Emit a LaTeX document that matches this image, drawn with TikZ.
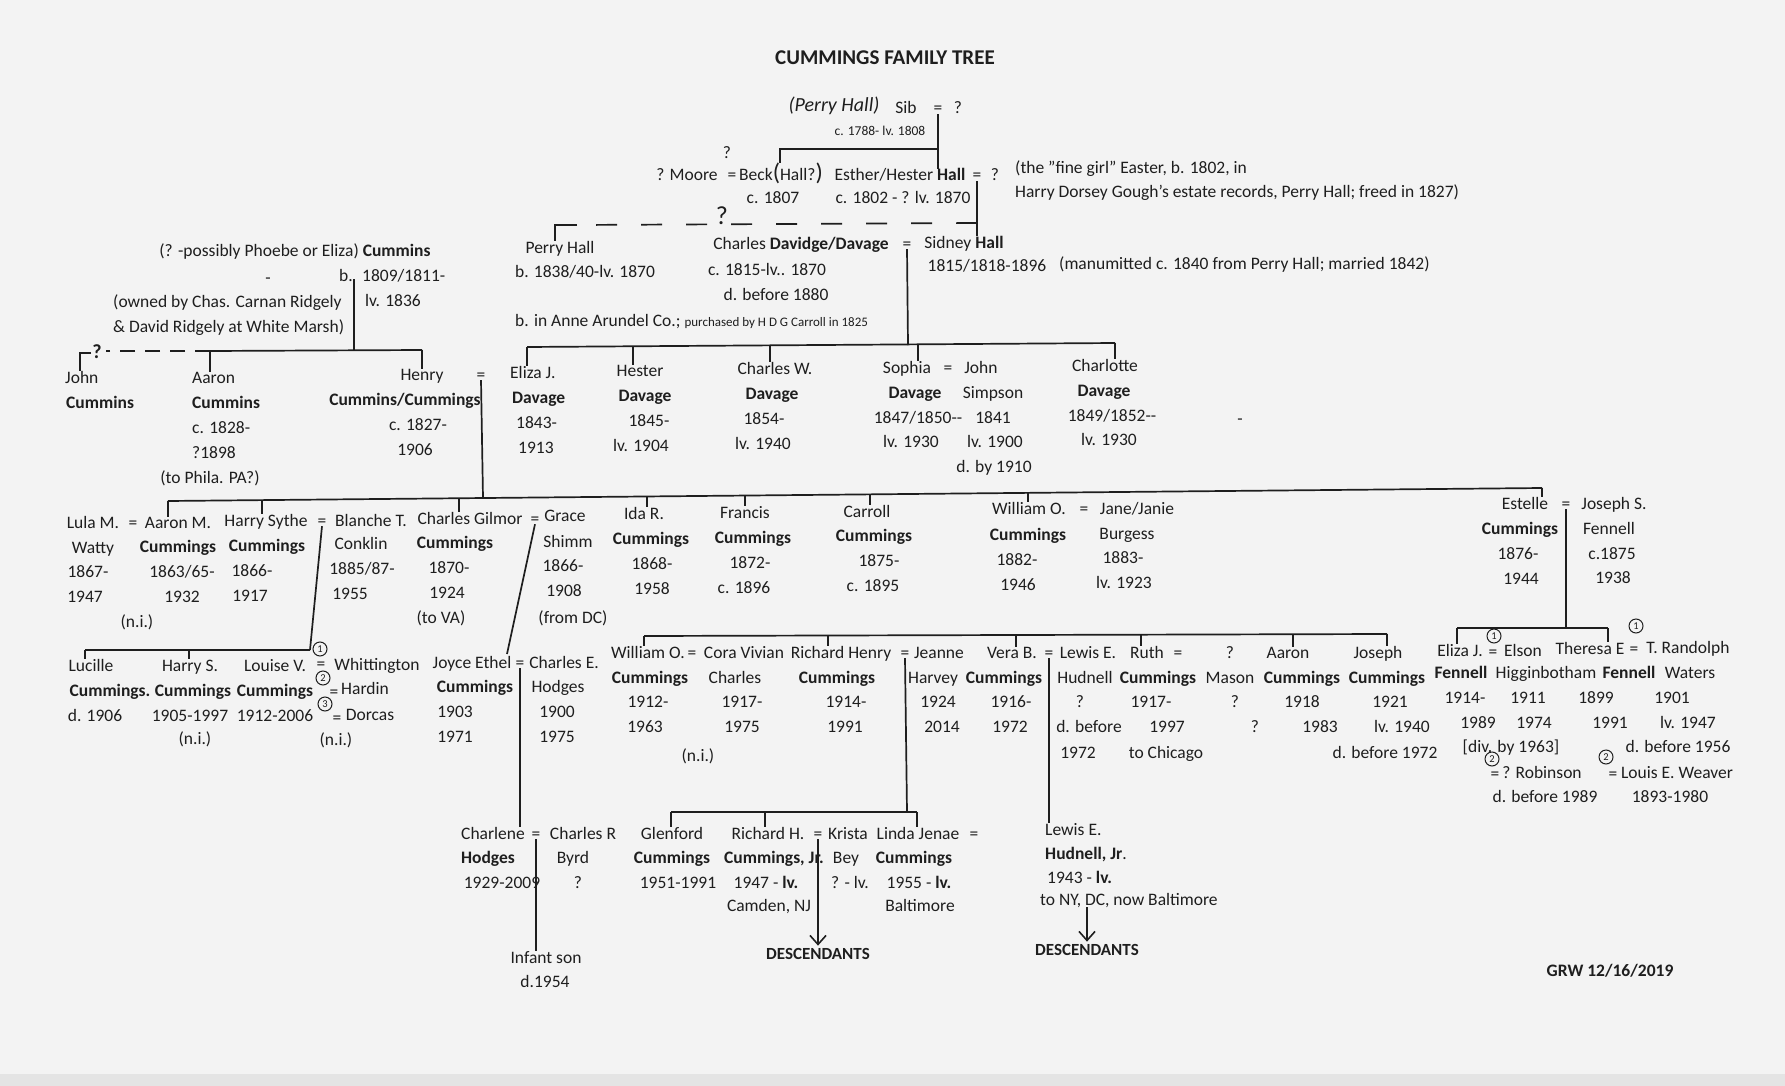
\documentclass[tikz,border=0pt]{standalone}
\usepackage{fontspec}
\setmainfont{Carlito}
\usetikzlibrary{arrows.meta}
\definecolor{ink}{HTML}{1E1E1E}
\definecolor{paper}{HTML}{F3F3F3}
\definecolor{edge}{HTML}{E4E4E4}
\newcommand\Lb[4][]{\node[tx,#1] (#2) at (#3) {#4};}
\newcommand\bigp[1]{{\fontsize{24}{24}\selectfont#1}}
\begin{document}
\begin{tikzpicture}[x=1pt,y=-1pt,
  tx/.style={anchor=base,yshift=-6pt,inner sep=0pt,text=ink,font=\fontsize{17.5}{21}\selectfont},
  lft/.style={anchor=base west},
  sm/.style={font=\fontsize{13.5}{16}\selectfont},
  ln/.style={draw=ink,line width=1.7pt},
  arr/.style={-{Straight Barb[length=9pt,width=16pt,line width=1.6pt]},shorten >=2pt},
  circ/.style={circle,draw=ink,line width=1pt,inner sep=0.4pt,minimum size=14pt,text=ink,font=\fontsize{10.5}{11}\selectfont}]
\useasboundingbox (0,0) rectangle (1785,1086);
\fill[paper] (0,0) rectangle (1785,1086);
\fill[edge] (0,1074) rectangle (1785,1086);

% ---------- top generation ----------
\Lb[font=\fontsize{21}{25}\selectfont\bfseries]{title}{885,59}{CUMMINGS FAMILY TREE}
\Lb[font=\fontsize{20}{24}\selectfont\itshape]{perry}{834,106}{(Perry Hall)}
\Lb{sib}{906,108}{Sib}
\Lb{sibeq}{938,108}{=}
\Lb{sibsp}{958,108}{?}
\Lb[sm]{sibd}{880,130}{c. 1788- lv. 1808}
\Lb{mooreq}{727,153}{?}
\Lb{moore}{687,175}{? Moore}
\Lb{mooreeq}{732,175}{=}
\Lb{beck}{781,175}{Beck\bigp{(}Hall?\bigp{)}}
\Lb{esther}{900,175}{Esther/Hester \textbf{Hall}}
\Lb{esteq}{977,175}{=}
\Lb{estsp}{995,175}{?}
\Lb{beckd}{773,198}{c. 1807}
\Lb{estd}{903,198}{c. 1802 - ? lv. 1870}
\Lb[lft]{note1}{1015,168}{(the "fine girl" Easter, b. 1802, in}
\Lb[lft]{note2}{1015,192}{Harry Dorsey Gough's estate records, Perry Hall; freed in 1827)}

% ---------- Cummins / Hall / Davage generation ----------
\Lb{phoebe}{295,250}{(? -possibly Phoebe or Eliza) \textbf{Cummins}}
\Lb{dash1}{268,277}{-}
\Lb{bee}{346,275}{b.}
\Lb[lft]{cumb}{362,275}{1809/1811-}
\Lb[lft]{cumlv}{365,300}{lv. 1836}
\Lb[lft]{owned1}{113,301}{(owned by Chas. Carnan Ridgely}
\Lb[lft]{owned2}{113,326}{\& David Ridgely at White Marsh)}

\Lb{perryh}{560,247}{Perry Hall}
\Lb{perryd}{585,271}{b. 1838/40-lv. 1870}
\Lb{chdav}{801,243}{Charles \textbf{Davidge/Davage}}
\Lb{cdeq}{907,243}{=}
\Lb{chd1}{767,269}{c. 1815-lv.. 1870}
\Lb{chd2}{776,294}{d. before 1880}
\Lb[lft]{anne}{515,320}{b. in Anne Arundel Co.; {\fontsize{13}{15}\selectfont purchased by H D G Carroll in 1825}}
\Lb{sidney}{964,242}{Sidney \textbf{Hall}}
\Lb{sidd}{987,265}{1815/1818-1896}
\Lb[lft]{manu}{1059,263}{(manumitted c. 1840 from Perry Hall; married 1842)}
\Lb[font=\fontsize{26}{26}\selectfont]{dq}{722,219}{?}

% ---------- children of Cummins ----------
\Lb[lft]{john}{65,377}{John}
\Lb[lft]{johnb}{66,402}{\textbf{Cummins}}
\Lb[lft]{aaron}{192,377}{Aaron}
\Lb[lft]{aaronb}{192,402}{\textbf{Cummins}}
\Lb[lft]{aarond1}{192,427}{c. 1828-}
\Lb[lft]{aarond2}{192,452}{?1898}
\Lb{aaronph}{210,477}{(to Phila. PA?)}
\Lb{henry}{422,374}{Henry}
\Lb{henryeq}{481,374}{=}
\Lb{henryb}{405,399}{\textbf{Cummins/Cummings}}
\Lb{henryd1}{418,424}{c. 1827-}
\Lb{henryd2}{415,449}{1906}
\Lb[font=\fontsize{20}{20}\selectfont\bfseries]{q1}{97,352}{?}

% ---------- children of Davage ----------
\Lb[lft]{elizaD}{510,372}{Eliza J.}
\Lb[lft]{elizaDb}{512,397}{\textbf{Davage}}
\Lb[lft]{elizaDd1}{516,422}{1843-}
\Lb[lft]{elizaDd2}{518,447}{1913}
\Lb{hester}{640,370}{Hester}
\Lb{hesterb}{645,395}{\textbf{Davage}}
\Lb{hesterd1}{649,420}{1845-}
\Lb{hesterd2}{641,445}{lv. 1904}
\Lb{charlesW}{775,368}{Charles W.}
\Lb{charlesWb}{772,393}{\textbf{Davage}}
\Lb{charlesWd1}{764,418}{1854-}
\Lb{charlesWd2}{763,443}{lv. 1940}
\Lb{sophia}{907,367}{Sophia}
\Lb{sopheq}{948,367}{=}
\Lb{johnS}{981,367}{John}
\Lb{sophiab}{915,392}{\textbf{Davage}}
\Lb{simpson}{993,392}{Simpson}
\Lb{sophiad1}{918,417}{1847/1850-{}-}
\Lb{johnSd1}{993,417}{1841}
\Lb{sophiad2}{911,441}{lv. 1930}
\Lb{johnSd2}{995,441}{lv. 1900}
\Lb{johnSd3}{994,466}{d. by 1910}
\Lb{charlotte}{1105,365}{Charlotte}
\Lb{charlotteb}{1104,390}{\textbf{Davage}}
\Lb{charlotted1}{1112,415}{1849/1852-{}-}
\Lb{charlotted2}{1109,439}{lv. 1930}
\Lb{dash2}{1240,418}{-}

% ---------- children of Henry ----------
\Lb{lula}{93,522}{Lula M.}
\Lb{lulaeq}{133,522}{=}
\Lb{aaronM}{178,522}{Aaron M.}
\Lb{watty}{93,547}{Watty}
\Lb{aaronMb}{178,546}{\textbf{Cummings}}
\Lb{lulad1}{88,571}{1867-}
\Lb{aaronMd1}{182,571}{1863/65-}
\Lb{lulad2}{85,596}{1947}
\Lb{aaronMd2}{182,596}{1932}
\Lb{aaronMni}{137,621}{(n.i.)}
\Lb{harrys}{266,520}{Harry Sythe}
\Lb{hseq}{322,520}{=}
\Lb{harrysb}{267,545}{\textbf{Cummings}}
\Lb{harrysd1}{252,570}{1866-}
\Lb{harrysd2}{250,595}{1917}
\Lb{blanche}{371,520}{Blanche T.}
\Lb{conklin}{361,543}{Conklin}
\Lb{blanched1}{362,568}{1885/87-}
\Lb{blanched2}{350,593}{1955}
\Lb{charlesg}{470,518}{Charles Gilmor}
\Lb{cgeq}{535,518}{=}
\Lb{charlesgb}{455,542}{\textbf{Cummings}}
\Lb{charlesgd1}{449,567}{1870-}
\Lb{charlesgd2}{447,592}{1924}
\Lb{charlesgva}{441,617}{(to VA)}
\Lb{grace}{565,515}{Grace}
\Lb{shimm}{568,541}{Shimm}
\Lb{graced1}{563,565}{1866-}
\Lb{graced2}{564,590}{1908}
\Lb{gracedc}{573,617}{(from DC)}
\Lb{idaR}{644,513}{Ida R.}
\Lb{idaRb}{651,538}{\textbf{Cummings}}
\Lb{idaRd1}{652,563}{1868-}
\Lb{idaRd2}{652,588}{1958}
\Lb{francis}{745,512}{Francis}
\Lb{francisb}{753,537}{\textbf{Cummings}}
\Lb{francisd1}{750,562}{1872-}
\Lb{francisd2}{744,587}{c. 1896}
\Lb{carroll}{867,511}{Carroll}
\Lb{carrollb}{874,535}{\textbf{Cummings}}
\Lb{carrolld1}{879,560}{1875-}
\Lb{carrolld2}{873,585}{c. 1895}
\Lb{williamO}{1029,508}{William O.}
\Lb{woeq}{1084,508}{=}
\Lb{jane}{1137,508}{Jane/Janie}
\Lb{williamOb}{1028,534}{\textbf{Cummings}}
\Lb{burgess}{1127,533}{Burgess}
\Lb{williamOd1}{1017,559}{1882-}
\Lb{janed1}{1123,557}{1883-}
\Lb{williamOd2}{1018,584}{1946}
\Lb{janed2}{1124,582}{lv. 1923}
\Lb{estelle}{1525,503}{Estelle}
\Lb{esteq2}{1566,503}{=}
\Lb{josephS}{1614,503}{Joseph S.}
\Lb{estelleb}{1520,528}{\textbf{Cummings}}
\Lb{fennell}{1609,528}{Fennell}
\Lb{estelled1}{1518,553}{1876-}
\Lb{josephSd1}{1612,553}{c.1875}
\Lb{estelled2}{1521,578}{1944}
\Lb{josephSd2}{1613,577}{1938}

% ---------- children of Harry Sythe ----------
\Lb{lucille}{91,665}{Lucille}
\Lb{lucilleb}{110,690}{\textbf{Cummings.}}
\Lb{lucilled}{95,715}{d. 1906}
\Lb{harryS}{190,665}{Harry S.}
\Lb{harrySb}{193,690}{\textbf{Cummings}}
\Lb{harrySd}{190,715}{1905-1997}
\Lb{harrySni}{195,738}{(n.i.)}
\Lb{louise}{275,665}{Louise V.}
\Lb{louiseb}{275,690}{\textbf{Cummings}}
\Lb{louised}{275,715}{1912-2006}
\node[circ] (lc1) at (320,649) {1};
\Lb{leq1}{321,663}{=}
\node[circ] (lc2) at (323,678) {2};
\Lb{leq2}{334,691}{=}
\node[circ] (lc3) at (325,704) {3};
\Lb{leq3}{337,717}{=}
\Lb{whitt}{377,664}{Whittington}
\Lb{hardin}{365,688}{Hardin}
\Lb{dorcas}{370,714}{Dorcas}
\Lb{wni}{336,739}{(n.i.)}

% ---------- children of Charles Gilmor ----------
\Lb{joyce}{472,662}{Joyce Ethel}
\Lb{jeeq}{520,662}{=}
\Lb{joyceb}{475,686}{\textbf{Cummings}}
\Lb{joyced1}{455,711}{1903}
\Lb{joyced2}{455,736}{1971}
\Lb{charlesE}{564,662}{Charles E.}
\Lb{hodges}{558,686}{Hodges}
\Lb{charlesEd1}{557,711}{1900}
\Lb{charlesEd2}{557,736}{1975}

% ---------- row of William O. (1912) etc. ----------
\Lb{wO2}{648,652}{William O.}
\Lb{wo2eq}{692,652}{=}
\Lb{cora}{744,652}{Cora Vivian}
\Lb{richHenry}{841,652}{Richard Henry}
\Lb{rheq}{905,652}{=}
\Lb{jeanne}{939,652}{Jeanne}
\Lb{vera}{1012,652}{Vera B.}
\Lb{veq}{1049,652}{=}
\Lb{lewis}{1088,652}{Lewis E.}
\Lb{ruth}{1147,652}{Ruth}
\Lb{rutheq}{1178,652}{=}
\Lb{ruthsp}{1230,652}{?}
\Lb{aaron2}{1288,652}{Aaron}
\Lb{joseph}{1378,652}{Joseph}
\Lb{wO2b}{650,677}{\textbf{Cummings}}
\Lb{corab}{735,677}{Charles}
\Lb{richHenryb}{837,677}{\textbf{Cummings}}
\Lb{harvey}{933,677}{Harvey}
\Lb{verab}{1004,677}{\textbf{Cummings}}
\Lb{hudnell}{1085,677}{Hudnell}
\Lb{ruthb}{1158,677}{\textbf{Cummings}}
\Lb{mason}{1230,677}{Mason}
\Lb{aaron2b}{1302,677}{\textbf{Cummings}}
\Lb{josephb}{1387,677}{\textbf{Cummings}}
\Lb{wO2d1}{648,701}{1912-}
\Lb{corad1}{742,701}{1917-}
\Lb{richHenryd1}{846,701}{1914-}
\Lb{jeanned1}{938,701}{1924}
\Lb{verad1}{1011,701}{1916-}
\Lb{lewisd1}{1080,701}{?}
\Lb{ruthd1}{1151,701}{1917-}
\Lb{masond1}{1235,701}{?}
\Lb{aaron2d1}{1302,701}{1918}
\Lb{josephd1}{1390,701}{1921}
\Lb{wO2d2}{645,726}{1963}
\Lb{corad2}{742,726}{1975}
\Lb{richHenryd2}{845,726}{1991}
\Lb{jeanned2}{942,726}{2014}
\Lb{verad2}{1010,726}{1972}
\Lb{lewisd2}{1089,726}{d. before}
\Lb{ruthd2}{1167,726}{1997}
\Lb{masond2}{1255,726}{?}
\Lb{aaron2d2}{1320,726}{1983}
\Lb{josephd2}{1402,726}{lv. 1940}
\Lb{wO2ni}{698,755}{(n.i.)}
\Lb{lewisd3}{1078,752}{1972}
\Lb{ruthd3}{1166,752}{to Chicago}
\Lb{josephd3}{1385,752}{d. before 1972}

% ---------- children of Estelle ----------
\Lb{elizaF}{1460,650}{Eliza J.}
\node[circ] (ec1) at (1494,636) {1};
\Lb{efeq}{1493,651}{=}
\Lb{elson}{1523,650}{Elson}
\Lb{theresa}{1590,648}{Theresa E}
\node[circ] (tc1) at (1636,626) {1};
\Lb{theq}{1634,648}{=}
\Lb{randolph}{1688,647}{T. Randolph}
\Lb{elizaFb}{1461,672}{\textbf{Fennell}}
\Lb{higgin}{1546,672}{Higginbotham}
\Lb{theresab}{1629,672}{\textbf{Fennell}}
\Lb{waters}{1690,672}{Waters}
\Lb{elizaFd1}{1465,697}{1914-}
\Lb{elsond1}{1528,697}{1911}
\Lb{theresad1}{1596,697}{1899}
\Lb{randolphd1}{1672,697}{1901}
\Lb{elizaFd2}{1478,722}{1989}
\Lb{elsond2}{1534,722}{1974}
\Lb{theresad2}{1610,722}{1991}
\Lb{randolphd2}{1688,722}{lv. 1947}
\Lb{div}{1511,746}{[div. by 1963]}
\Lb{randolphd3}{1678,746}{d. before 1956}
\node[circ] (ec2) at (1492,759) {2};
\Lb{efeq2}{1495,773}{=}
\Lb{robinson}{1542,772}{? Robinson}
\node[circ] (tc2) at (1606,757) {2};
\Lb{theq2}{1613,773}{=}
\Lb{weaver}{1677,772}{Louis E. Weaver}
\Lb{robinsond}{1545,796}{d. before 1989}
\Lb{weaverd}{1670,796}{1893-1980}

% ---------- youngest generation ----------
\Lb{charlene}{493,833}{Charlene}
\Lb{cheq}{536,833}{=}
\Lb{charlesR}{583,833}{Charles R}
\Lb{charleneb}{488,857}{\textbf{Hodges}}
\Lb{byrd}{573,857}{Byrd}
\Lb{charlened}{502,882}{1929-2009}
\Lb{byrdd}{578,882}{?}
\Lb{infant}{546,957}{Infant son}
\Lb{infantd}{545,981}{d.1954}
\Lb{glenford}{672,833}{Glenford}
\Lb{glenfordb}{672,857}{\textbf{Cummings}}
\Lb{glenfordd}{678,882}{1951-1991}
\Lb{richH}{768,833}{Richard H.}
\Lb{rheq2}{818,833}{=}
\Lb{richHb}{774,857}{\textbf{Cummings, Jr.}}
\Lb{richHd}{766,882}{1947 - \textbf{lv.}}
\Lb{camden}{769,905}{Camden, NJ}
\Lb{krista}{848,833}{Krista}
\Lb{bey}{846,857}{Bey}
\Lb{kristad}{850,882}{? - lv.}
\Lb{lindaJ}{918,833}{Linda Jenae}
\Lb{ljeq}{974,833}{=}
\Lb{lindaJb}{914,857}{\textbf{Cummings}}
\Lb{lindaJd}{919,882}{1955 - \textbf{lv.}}
\Lb{baltimore}{920,905}{Baltimore}
\Lb[font=\fontsize{17}{20}\selectfont\bfseries]{desc1}{818,953}{DESCENDANTS}
\Lb[lft]{lewisJr}{1045,829}{Lewis E.}
\Lb[lft]{lewisJrb}{1045,853}{\textbf{Hudnell, Jr}.}
\Lb[lft]{lewisJrd}{1047,877}{1943 - \textbf{lv.}}
\Lb[lft]{lewisnow}{1040,899}{to NY, DC, now Baltimore}
\Lb[font=\fontsize{17}{20}\selectfont\bfseries]{desc2}{1087,949}{DESCENDANTS}
\Lb[font=\fontsize{17.5}{20}\selectfont\bfseries]{grw}{1610,970}{GRW 12/16/2019}

% ================= connectors =================
% Sib = ?
\coordinate (sibbar) at (938,149);
\coordinate (sibL) at (780,149);
\draw[ln] (sibeq.south) -- (sibeq.south |- esther.north);
\draw[ln] (sibbar) -- (sibL) -- (sibL |- beck.north);
% Esther = ?
\draw[ln] (esteq.south) -- (esteq.south |- sidney.north);
% dashed link to Perry Hall
\coordinate (dR) at (977,223);
\coordinate (dLs) at (577,225);
\coordinate (dL) at (555,225);
\draw[ln,dash pattern=on 21pt off 24pt] (dR) -- (dLs);
\draw[ln] (dLs) -- (dL) -- (dL |- perryh.north);
% Cummins mother
\coordinate (cbT) at (354,279);
\coordinate (r1j) at (354,351);
\coordinate (r1a) at (210,351);
\coordinate (r1h) at (422,350);
\coordinate (r1d) at (106,351);
\coordinate (r1j0) at (80,353);
\coordinate (r1j1) at (91,353);
\draw[ln] (cbT) -- (r1j);
\draw[ln] (r1a) -- (r1h);
\draw[ln] (r1a) -- (r1a |- aaron.north);
\draw[ln] (r1h) -- (r1h |- henry.north);
\draw[ln,dash pattern=on 15pt off 10pt] (r1a) -- (r1d);
\draw[ln] (r1j1) -- (r1j0) -- (r1j0 |- john.north);
% Charles Davage = Sidney Hall
\coordinate (r2j) at (908,345);
\coordinate (r2L) at (527,347);
\coordinate (r2R) at (1115,343);
\coordinate (r2b) at (633,346.3);
\coordinate (r2c) at (770,345.4);
\coordinate (r2d) at (918,344.3);
\draw[ln] (cdeq.south) -- (r2j);
\draw[ln] (r2L) -- (r2R);
\draw[ln] (r2L) -- (r2L |- elizaD.north);
\draw[ln] (r2b) -- (r2b |- hester.north);
\draw[ln] (r2c) -- (r2c |- charlesW.north);
\draw[ln] (r2d) -- (r2d |- sophia.north);
\draw[ln] (r2R) -- (r2R |- charlotte.north);
% Henry = Eliza J.
\coordinate (r3h) at (483,498);
\coordinate (r3L) at (168,501);
\coordinate (r3R) at (1542,488);
\coordinate (r3b) at (262,500.1);
\coordinate (r3c) at (459,498.2);
\coordinate (r3d) at (647,496.5);
\coordinate (r3e) at (745,495.5);
\coordinate (r3f) at (870,494.4);
\coordinate (r3g) at (1028,492.9);
\draw[ln] (henryeq.south) -- (r3h);
\draw[ln] (r3L) -- (r3R);
\draw[ln] (r3L) -- (r3L |- aaronM.north);
\draw[ln] (r3b) -- (r3b |- harrys.north);
\draw[ln] (r3c) -- (r3c |- charlesg.north);
\draw[ln] (r3d) -- (r3d |- idaR.north);
\draw[ln] (r3e) -- (r3e |- francis.north);
\draw[ln] (r3f) -- (r3f |- carroll.north);
\draw[ln] (r3g) -- (r3g |- williamO.north);
\draw[ln] (r3R) -- (r3R |- estelle.north);
% Harry Sythe = Blanche
\coordinate (r4lR) at (310,650);
\coordinate (r4lL) at (85,650);
\coordinate (r4lb) at (189,650);
\draw[ln] (hseq.south) -- (r4lR);
\draw[ln] (r4lL) -- (r4lR);
\draw[ln] (r4lL) -- (r4lL |- lucille.north);
\draw[ln] (r4lb) -- (r4lb |- harryS.north);
% Charles Gilmor = Grace
\coordinate (jeT) at (507,654);
\draw[ln] (cgeq.south) -- (jeT);
% Joyce = Charles E.
\draw[ln] (jeeq.south) -- (jeeq.south |- charlene.north);
% Charlene = Charles R
\draw[ln] (cheq.south) -- (cheq.south |- infant.north);
% row of William O. (1912)
\coordinate (r4mL) at (644,636);
\coordinate (r4mR) at (1387,634);
\coordinate (r4mb) at (828,635.5);
\coordinate (r4mc) at (1016,635);
\coordinate (r4md) at (1141,634.6);
\coordinate (r4me) at (1293,634.3);
\draw[ln] (r4mL) -- (r4mR);
\draw[ln] (r4mL) -- (r4mL |- wO2.north);
\draw[ln] (r4mb) -- (r4mb |- richHenry.north);
\draw[ln] (r4mc) -- (r4mc |- vera.north);
\draw[ln] (r4md) -- (r4md |- ruth.north);
\draw[ln] (r4me) -- (r4me |- aaron2.north);
\draw[ln] (r4mR) -- (r4mR |- joseph.north);
% Richard Henry = Jeanne
\coordinate (r5j) at (907,812);
\coordinate (r5L) at (671,812);
\coordinate (r5R) at (917,812);
\coordinate (r5b) at (765,812);
\draw[ln] (rheq.south) -- (r5j);
\draw[ln] (r5L) -- (r5R);
\draw[ln] (r5L) -- (r5L |- glenford.north);
\draw[ln] (r5b) -- (r5b |- richH.north);
\draw[ln] (r5R) -- (r5R |- lindaJ.north);
% Richard H. = Krista
\draw[ln,arr] (rheq2.south) -- (rheq2.south |- desc1.north);
% Vera = Lewis
\draw[ln] (veq.south) -- (veq.south |- lewisJr.north);
\draw[ln,arr] (lewisnow.south -| desc2.north) -- (desc2.north);
% Estelle = Joseph S.
\coordinate (r4rj) at (1566,628);
\coordinate (r4rL) at (1457,628);
\coordinate (r4rR) at (1608,628);
\draw[ln] (esteq2.south) -- (r4rj);
\draw[ln] (r4rL) -- (r4rR);
\draw[ln] (r4rL) -- (r4rL |- elizaF.north);
\draw[ln] (r4rR) -- (r4rR |- theresa.north);
\end{tikzpicture}
\end{document}
